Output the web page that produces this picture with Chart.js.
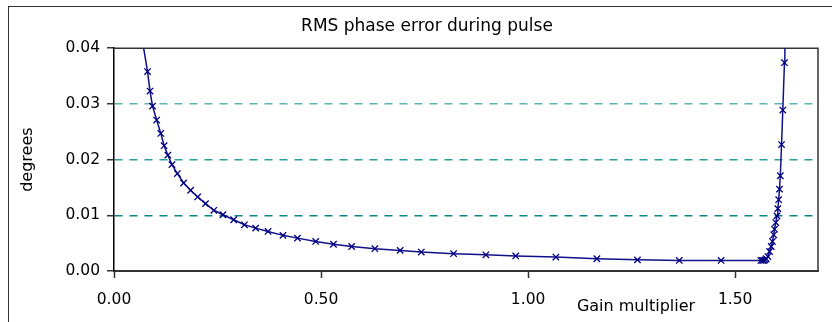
<!DOCTYPE html>
<html lang="en">
<head>
    <meta charset="UTF-8">
    <title>RMS phase error during pulse</title>
    <style>
        body {
            margin: 0;
            background: #ffffff;
            overflow: hidden;
        }
        .frame {
            position: absolute;
            left: 8px;
            top: 6px;
            width: 900px;
            height: 400px;
            border: 1px solid #333;
        }
        canvas {
            position: absolute;
            left: 0;
            top: 0;
        }
    </style>
</head>
<body>
    <div class="frame"></div>
    <canvas id="chart" width="832" height="322"></canvas>

    <script src="https://cdn.jsdelivr.net/npm/chart.js"></script>
    <script>
        // values (gain multiplier vs degrees)
        const gain = [0.066, 0.081, 0.087, 0.093, 0.103, 0.113, 0.121, 0.130, 0.140, 0.153,
            0.168, 0.185, 0.202, 0.221, 0.241, 0.263, 0.289, 0.315, 0.342, 0.372,
            0.408, 0.443, 0.487, 0.530, 0.574, 0.630, 0.691, 0.742, 0.820, 0.898,
            0.970, 1.067, 1.166, 1.264, 1.365, 1.466, 1.562, 1.566, 1.569, 1.572,
            1.575, 1.579, 1.583, 1.587, 1.590, 1.593, 1.595, 1.598, 1.601, 1.603,
            1.605, 1.607, 1.609, 1.612, 1.615, 1.619, 1.620];
        const rmsError = [0.0425, 0.0358, 0.0323, 0.0296, 0.0271, 0.0247, 0.0225, 0.0208, 0.0191, 0.0175,
            0.0158, 0.0145, 0.0133, 0.0121, 0.0109, 0.0101, 0.0092, 0.0083, 0.0077, 0.0071,
            0.0064, 0.0059, 0.0053, 0.0048, 0.0044, 0.0040, 0.0037, 0.0034, 0.0031, 0.0029,
            0.0027, 0.0025, 0.0022, 0.0020, 0.0019, 0.0019, 0.0019, 0.0019, 0.0019, 0.0020,
            0.0022, 0.0026, 0.0035, 0.0044, 0.0053, 0.0065, 0.0075, 0.0087, 0.0099, 0.0112,
            0.0128, 0.0147, 0.0171, 0.0227, 0.0289, 0.0374, 0.0425];

        const xTicks = [0, 0.5, 1.0, 1.5];
        const yTicks = [0, 0.01, 0.02, 0.03, 0.04];
        const gridColors = { '0.01': '#0a8784', '0.02': '#2a9e9b', '0.03': '#5cb4b1' };

        const font = 'DejaVu Sans, Arial, sans-serif';

        // top and right edges of the plot area
        const plotFrame = {
            id: 'plotFrame',
            beforeDatasetsDraw(chart) {
                const { ctx, chartArea: a } = chart;
                ctx.save();
                ctx.strokeStyle = '#333';
                ctx.lineWidth = 1.5;
                ctx.beginPath();
                ctx.moveTo(a.left, a.top);
                ctx.lineTo(a.right, a.top);
                ctx.lineTo(a.right, a.bottom);
                ctx.stroke();
                ctx.restore();
            }
        };

        // x axis title sits off-centre, to the right
        const xTitle = {
            id: 'xTitle',
            afterDraw(chart) {
                const ctx = chart.ctx;
                ctx.save();
                ctx.font = '16px ' + font;
                ctx.fillStyle = '#000';
                ctx.textAlign = 'center';
                ctx.textBaseline = 'middle';
                ctx.fillText('Gain multiplier', 636, 307);
                ctx.restore();
            }
        };

        new Chart(document.getElementById('chart'), {
            type: 'line',
            data: {
                datasets: [{
                    data: gain.map((g, i) => ({ x: g, y: rmsError[i] })),
                    borderColor: '#10108a',
                    borderWidth: 1.5,
                    pointStyle: 'crossRot',
                    pointRadius: 4.5,
                    pointBorderWidth: 1.3,
                    pointBorderColor: '#000080',
                    pointBackgroundColor: '#000080',
                    tension: 0
                }]
            },
            options: {
                responsive: false,
                animation: false,
                devicePixelRatio: 1,
                layout: { padding: { left: 36, right: 14, top: 0, bottom: 0 } },
                plugins: {
                    legend: { display: false },
                    tooltip: { enabled: false },
                    title: {
                        display: true,
                        text: 'RMS phase error during pulse',
                        color: '#000',
                        font: { family: font, size: 17, weight: 'normal' },
                        padding: { top: 16.8, bottom: 11 }
                    }
                },
                scales: {
                    x: {
                        type: 'linear',
                        min: 0,
                        max: 1.7,
                        afterBuildTicks: s => { s.ticks = xTicks.map(v => ({ value: v })); },
                        afterFit: s => { s.height = 51; },
                        ticks: {
                            callback: v => v.toFixed(2),
                            color: '#000',
                            font: { family: font, size: 15.5 },
                            padding: 13,
                            maxRotation: 0
                        },
                        grid: { drawOnChartArea: false, tickLength: 7, tickColor: '#333', tickWidth: 1.5 },
                        border: { color: '#333', width: 2 }
                    },
                    y: {
                        min: 0,
                        max: 0.04,
                        afterBuildTicks: s => { s.ticks = yTicks.map(v => ({ value: v })); },
                        afterFit: s => { s.width = 78; },
                        ticks: {
                            callback: v => v.toFixed(2),
                            color: '#000',
                            font: { family: font, size: 15.5 },
                            padding: 7
                        },
                        title: {
                            display: true,
                            text: 'degrees',
                            color: '#000',
                            font: { family: font, size: 16 },
                            padding: { top: -17.6, bottom: 0 }
                        },
                        grid: {
                            color: c => gridColors[c.tick.value.toFixed(2)] || 'rgba(0,0,0,0)',
                            lineWidth: 1.6,
                            tickLength: 7,
                            tickColor: '#000',
                            tickWidth: 1.2
                        },
                        border: { color: '#000', width: 1.5, dash: [8, 7] }
                    }
                }
            },
            plugins: [plotFrame, xTitle]
        });
    </script>
</body>
</html>
